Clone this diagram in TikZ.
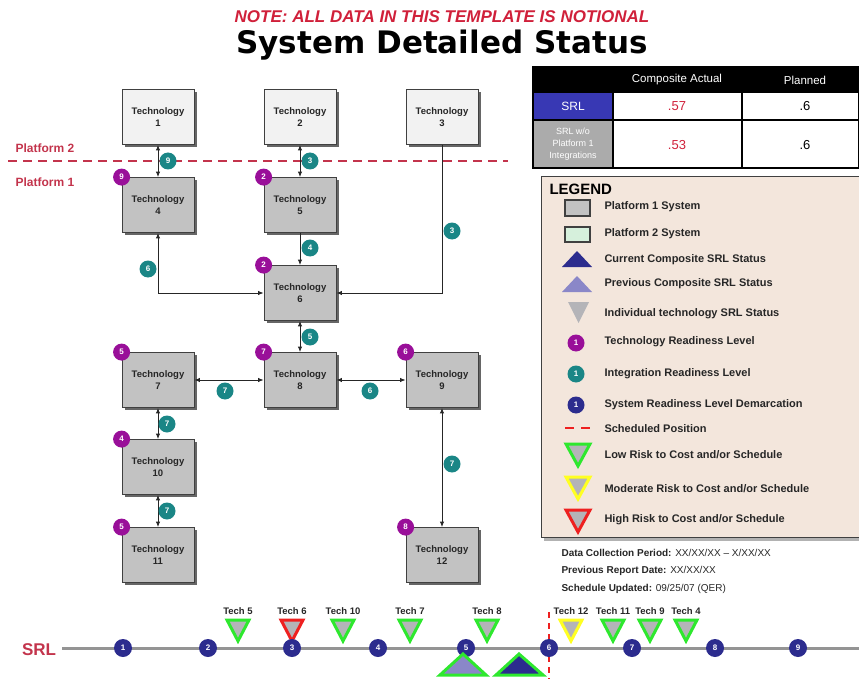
\documentclass[tikz,border=0pt]{standalone}
\usepackage{fontspec}
\setmainfont{Liberation Sans}
\newfontfamily\titlefont{DejaVu Sans}
\usetikzlibrary{arrows.meta,shadows}

\definecolor{techgray}{HTML}{C2C2C2}
\definecolor{techlight}{HTML}{F2F2F2}
\definecolor{trlpurple}{HTML}{990F99}
\definecolor{irlteal}{HTML}{1A8686}
\definecolor{srlnavy}{HTML}{2C2C8E}
\definecolor{srlblue}{HTML}{3838B4}
\definecolor{celgray}{HTML}{ABABAB}
\definecolor{legendbg}{HTML}{F3E6DC}
\definecolor{platred}{HTML}{C3344C}
\definecolor{notered}{HTML}{D0203A}
\definecolor{riskgreen}{HTML}{2EE82E}
\definecolor{riskyellow}{HTML}{FFFF22}
\definecolor{riskred}{HTML}{EE2020}
\definecolor{prevpurple}{HTML}{8A87C8}
\definecolor{ptwogreen}{HTML}{D6F0DC}
\definecolor{markgray}{HTML}{B4B4B8}

\newcommand\fsz[2]{\fontsize{#1}{#2}\selectfont}

\tikzset{
  tech/.style={draw=black!75, line width=0.8pt, fill=techgray, minimum width=72pt,
    minimum height=55pt, align=center, text=black!85, font=\bfseries\fsz{9.5}{12},
    drop shadow={shadow xshift=2.5pt, shadow yshift=-2.5pt, fill=black!75, opacity=0.8}},
  techtop/.style={tech, fill=techlight},
  trl/.style={circle, fill=trlpurple, text=white, inner sep=0pt, minimum size=17pt,
    font=\bfseries\fsz{8}{8}},
  irl/.style={trl, fill=irlteal},
  srl/.style={trl, fill=srlnavy, minimum size=18pt},
  link/.style={line width=0.9pt, black!85},
  biarrow/.style={link, {Latex[length=5.5pt,width=4.5pt]}-{Latex[length=5.5pt,width=4.5pt]}},
  onearrow/.style={link, -{Latex[length=5.5pt,width=4.5pt]}},
  legtext/.style={anchor=west, font=\bfseries\fsz{11}{12}, text=black!85},
  tabtext/.style={font=\fsz{11.5}{13}},
  infotext/.style={anchor=west, font=\fsz{10}{11}, text=black!85},
  risk/.style={line width=3pt, fill=markgray, line join=miter},
}

\begin{document}
\begin{tikzpicture}[x=1pt, y=-1pt]
\useasboundingbox (0,0) rectangle (859,679);

% title
\node[text=notered, font=\bfseries\itshape\fsz{17}{19}] (note) at (442,17) {NOTE: ALL DATA IN THIS TEMPLATE IS NOTIONAL};
\node[font=\titlefont\bfseries\fsz{31}{33}] (title) at (442,45) {System Detailed Status};

% platforms
\draw[platred, line width=1.8pt, dash pattern=on 9pt off 6pt] (8,161) -- (508,161);
\node[anchor=west, text=platred, font=\bfseries\fsz{12}{13}] (plat2) at (12,148) {Platform 2};
\node[anchor=west, text=platred, font=\bfseries\fsz{12}{13}] (plat1) at (12,182) {Platform 1};

% technologies
\node[techtop] (t1) at (158,117) {Technology\\1};
\node[techtop] (t2) at (300,117) {Technology\\2};
\node[techtop] (t3) at (442,117) {Technology\\3};
\node[tech] (t4) at (158,205) {Technology\\4};
\node[tech] (t5) at (300,205) {Technology\\5};
\node[tech] (t6) at (300,293) {Technology\\6};
\node[tech] (t7) at (158,380) {Technology\\7};
\node[tech] (t8) at (300,380) {Technology\\8};
\node[tech] (t9) at (442,380) {Technology\\9};
\node[tech] (t10) at (158,467) {Technology\\10};
\node[tech] (t11) at (158,555) {Technology\\11};
\node[tech] (t12) at (442,555) {Technology\\12};

% integrations
\draw[biarrow] (t1) -- (t4);
\draw[biarrow] (t2) -- (t5);
\draw[onearrow] (t3.south) |- (t6.east);
\draw[onearrow] (t5) -- (t6);
\draw[biarrow] (t4.south) |- (t6.west);
\draw[biarrow] (t6) -- (t8);
\draw[biarrow] (t7) -- (t8);
\draw[biarrow] (t8) -- (t9);
\draw[biarrow] (t7) -- (t10);
\draw[biarrow] (t10) -- (t11);
\draw[biarrow] (t9) -- (t12);

\node[irl] (i14) at (168,161) {9};
\node[irl] (i25) at (310,161) {3};
\node[irl] (i36) at (452,231) {3};
\node[irl] (i56) at (310,248) {4};
\node[irl] (i46) at (148,269) {6};
\node[irl] (i68) at (310,337) {5};
\node[irl] (i78) at (225,391) {7};
\node[irl] (i89) at (370,391) {6};
\node[irl] (i710) at (167,424) {7};
\node[irl] (i1011) at (167,511) {7};
\node[irl] (i912) at (452,464) {7};

% readiness of each technology
\foreach \t/\v in {4/9, 5/2, 6/2, 7/5, 8/7, 9/6, 10/4, 11/5, 12/8}
  \node[trl] (r\t) at (t\t.north west) {\v};

% status table
\fill[black] (533,67) rectangle (859,92);
\fill[srlblue] (533,92) rectangle (613,120);
\fill[celgray] (533,120) rectangle (613,168);
\draw[line width=1.2pt] (533,92) -- (859,92) (533,120) -- (859,120)
  (613,92) -- (613,168) (742,92) -- (742,168);
\draw[line width=2.5pt] (533,67) rectangle (859,168);
\node[tabtext, text=white] (hca) at (677,80) {Composite Actual};
\node[tabtext, text=white] (hpl) at (805,80) {Planned};
\node[tabtext, text=white, font=\fsz{12}{13}] (rsrl) at (573,106) {SRL};
\node[text=white, align=center, font=\fsz{9}{12}] (rwo) at (573,144) {SRL w/o\\Platform 1\\Integrations};
\node[tabtext, text=notered, font=\fsz{13}{14}] (ca1) at (677,106) {.57};
\node[tabtext, font=\fsz{13}{14}] (pl1) at (805,106) {.6};
\node[tabtext, text=notered, font=\fsz{13}{14}] (ca2) at (677,145) {.53};
\node[tabtext, font=\fsz{13}{14}] (pl2) at (805,145) {.6};

% legend
\node[draw=black!75, line width=1.2pt, fill=legendbg, minimum width=320pt, minimum height=361pt,
  anchor=north west, drop shadow={shadow xshift=2pt, shadow yshift=-3pt, fill=black!60}] (legend) at (541,176) {};
\node[anchor=west, font=\bfseries\fsz{15}{16}] (legtitle) at (546,189) {LEGEND};

\draw[fill=techgray, draw=black!75, line width=1.2pt] (565,200) rectangle (590,216);
\draw[fill=ptwogreen, draw=black!75, line width=1.2pt] (565,227) rectangle (590,242);
\fill[srlnavy] (562,267) -- (592,267) -- (577,251) -- cycle;
\fill[prevpurple] (562,292) -- (592,292) -- (577,276) -- cycle;
\fill[markgray] (568,302) -- (589,302) -- (578.5,323) -- cycle;
\node[trl] (ltrl) at (576,343) {1};
\node[irl] (lirl) at (576,374) {1};
\node[srl, minimum size=17pt] (lsrl) at (576,405) {1};
\draw[riskred, line width=2pt, dash pattern=on 9pt off 7pt] (565,428) -- (592,428);
\draw[risk, draw=riskgreen] (566,444) -- (590,444) -- (578,466) -- cycle;
\draw[risk, draw=riskyellow] (566,477) -- (590,477) -- (578,499) -- cycle;
\draw[risk, draw=riskred] (566,510) -- (590,510) -- (578,532) -- cycle;

\node[legtext] (lp1) at (601,207) {Platform 1 System};
\node[legtext] (lp2) at (601,234) {Platform 2 System};
\node[legtext] (lcur) at (601,260) {Current Composite SRL Status};
\node[legtext] (lprev) at (601,284) {Previous Composite SRL Status};
\node[legtext] (lind) at (601,314) {Individual technology SRL Status};
\node[legtext] (ltrlt) at (601,342) {Technology Readiness Level};
\node[legtext] (lirlt) at (601,374) {Integration Readiness Level};
\node[legtext] (lsrlt) at (601,405) {System Readiness Level Demarcation};
\node[legtext] (lsch) at (601,429) {Scheduled Position};
\node[legtext] (llow) at (601,455) {Low Risk to Cost and/or Schedule};
\node[legtext] (lmod) at (601,489) {Moderate Risk to Cost and/or Schedule};
\node[legtext] (lhigh) at (601,520) {High Risk to Cost and/or Schedule};

% report dates
\node[infotext] (dcp) at (558,553) {\textbf{Data Collection Period:} XX/XX/XX -- X/XX/XX};
\node[infotext] (prd) at (558,571) {\textbf{Previous Report Date:} XX/XX/XX};
\node[infotext] (sup) at (558,589) {\textbf{Schedule Updated:} 09/25/07 (QER)};

% SRL scale
\node[text=platred, font=\bfseries\fsz{17}{18}] (srllabel) at (39,650) {SRL};
\draw[line width=3pt, black!42] (62,648) -- (859,648);
\draw[riskred, line width=2pt, dash pattern=on 6pt off 5pt] (549,612) -- (549,679);

\foreach \x/\c/\n in {238/riskgreen/5, 292/riskred/6, 343/riskgreen/10, 410/riskgreen/7,
    487/riskgreen/8, 571/riskyellow/12, 613/riskgreen/11, 650/riskgreen/9, 686/riskgreen/4} {
  \draw[risk, draw=\c] (\x-11,620) -- (\x+11,620) -- (\x,641) -- cycle;
  \node[font=\bfseries\fsz{9.5}{10}, text=black!85] (tk\n) at (\x,611) {Tech \n};
}

\foreach \n/\x in {1/123, 2/208, 3/292, 4/378, 5/466, 6/549, 7/632, 8/715, 9/798}
  \node[srl] (s\n) at (\x,648) {\n};

\draw[risk, draw=riskgreen, fill=prevpurple] (440,675) -- (486,675) -- (463,654) -- cycle;
\draw[risk, draw=riskgreen, fill=srlnavy] (496,675) -- (543,675) -- (519,654) -- cycle;
\end{tikzpicture}
\end{document}
